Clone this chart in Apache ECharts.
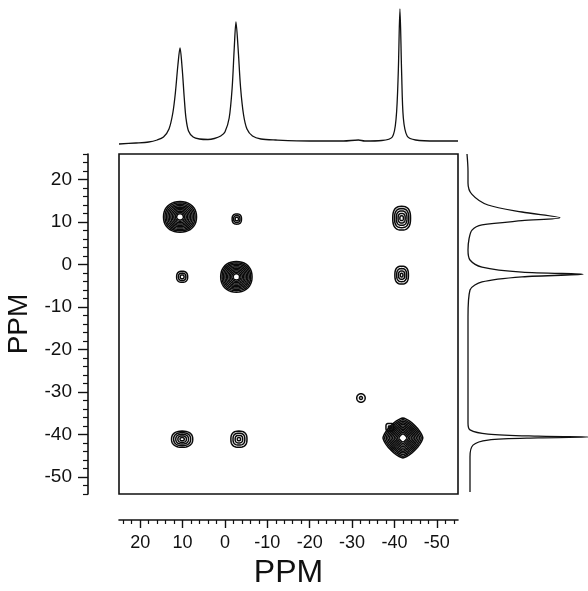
<!DOCTYPE html>
<html>
<head>
<meta charset="utf-8">
<title>2D NMR</title>
<script src="https://cdn.jsdelivr.net/npm/echarts@6/dist/echarts.min.js"></script>
<style>
    html, body { margin: 0; padding: 0; background: #fff; }
    #divChart { width: 588px; height: 591px; }
</style>
</head>
<body>
<div id="divChart"></div>
<script>
// tick labels, ppm
var majorTicks = [20, 10, 0, -10, -20, -30, -40, -50];
var minorTicks = [];
for (var v = -54; v <= 26; v += 2) {
    if (v % 10 !== 0) minorTicks.push(v);
}

// contour peaks: centre (ppm), half width (ppm), number of contour levels
var peakX = [10.6, -2.7, -42.0, -2.8, -41.7, 10.1, -41.7, 10.1, -3.3, -32.1, -38.9];
var peakY = [11.2, -2.9, -40.8, 10.7, 10.9, -2.9, -2.5, -41.1, -41.1, -31.4, -38.3];
var peakWX = [3.9, 3.7, 4.7, 1.1, 2.1, 1.3, 1.6, 2.5, 1.9, 1.0, 0.9];
var peakWY = [3.6, 3.6, 4.7, 1.2, 2.8, 1.3, 2.1, 1.9, 1.9, 1.0, 0.9];
var peakLevels = [10, 10, 11, 3, 5, 3, 4, 5, 4, 2, 2];

// projection on top: [ppm, intensity]
var topSpectrum = [
    [25, -1], [21, 0], [18, 1], [16, 3], [14.5, 6], [13.2, 14], [12.3, 30], [11.7, 50],
    [11.1, 78], [10.6, 95], [10.1, 75], [9.6, 45], [9.2, 25], [8.6, 12], [7.5, 6], [6, 4],
    [4, 3.5], [2.5, 4.5], [1, 7], [0, 11], [-1, 25], [-1.7, 55], [-2.2, 95], [-2.6, 121],
    [-3.1, 95], [-3.7, 55], [-4.4, 28], [-5.2, 14], [-6.5, 7], [-8.5, 4], [-12, 3], [-20, 2],
    [-28, 2], [-31.5, 3], [-33, 2], [-37, 2.5], [-39.5, 6], [-40.4, 25], [-40.9, 70], [-41.3, 134],
    [-41.7, 70], [-42.1, 25], [-43, 7], [-45, 3], [-50, 2], [-55, 2]
];

// projection on the right: [intensity, ppm]
var rightSpectrum = [
    [1, 26], [2, 22], [2, 19.2], [6, 16.5], [22, 14.0], [56, 12.35], [94, 11.0], [56, 10.3],
    [16, 9.3], [6, 8.1], [3, 6], [2, 3.4], [4, 1.06], [16, -0.6], [56, -1.8], [117, -2.3],
    [56, -2.9], [16, -4.1], [4, -6.0], [2, -12.4], [2, -37.3], [4, -38.9], [22, -39.9], [72, -40.4],
    [122, -40.6], [72, -40.8], [22, -41.3], [7, -42.5], [4, -45.3], [4, -53.5]
];

// contour shape (superellipse exponent) per peak, style only
var peakRound = [2.2, 2.2, 1.4, 2.5, 2.6, 2.5, 2.6, 2.4, 2.6, 2.0, 4.0];

var contourData = [];
for (var i = 0; i < peakX.length; i++) {
    contourData.push([peakX[i], peakY[i], peakWX[i], peakWY[i], peakLevels[i], peakRound[i]]);
}

function renderContour(params, api) {
    var c = api.coord([api.value(0), api.value(1)]);
    var s = api.size([api.value(2), api.value(3)]);
    var n = api.value(4);
    var p = api.value(5);
    var k0 = n > 3 ? 0.2 : 0.35;
    var children = [];
    for (var j = 0; j < n; j++) {
        var k = n === 1 ? 1 : k0 + (1 - k0) * j / (n - 1);
        var pts = [];
        for (var t = 0; t < 40; t++) {
            var a = t / 40 * Math.PI * 2;
            var ca = Math.cos(a), sa = Math.sin(a);
            var px = (ca < 0 ? -1 : 1) * Math.pow(Math.abs(ca), 2 / p);
            var py = (sa < 0 ? -1 : 1) * Math.pow(Math.abs(sa), 2 / p);
            pts.push([c[0] + px * s[0] * k, c[1] + py * s[1] * k]);
        }
        children.push({
            type: 'polygon',
            shape: { points: pts },
            style: { fill: 'none', stroke: '#0a0a0a', lineWidth: 1.5 }
        });
    }
    return { type: 'group', children: children };
}

var font = 'Liberation Sans, Arial, sans-serif';
var ink = '#111';

var myChart = echarts.init(document.getElementById('divChart'), null, { renderer: 'canvas' });
var option = {
    animation: false,
    backgroundColor: '#fff',
    grid: [
        { left: 119, top: 154, width: 339, height: 340, show: true, borderColor: ink, borderWidth: 1.6, outerBoundsMode: 'none' },
        { left: 119, top: 8, width: 339, height: 137, outerBoundsMode: 'none' },
        { left: 466, top: 154, width: 122, height: 340, outerBoundsMode: 'none' }
    ],
    xAxis: [{
        gridIndex: 0, type: 'value', min: -55, max: 25, inverse: true, position: 'bottom', offset: 26,
        axisLine: { show: true, onZero: false, lineStyle: { color: ink, width: 1.6 } },
        axisTick: { show: true, customValues: majorTicks, length: 8, lineStyle: { color: ink, width: 1.4 } },
        axisLabel: { customValues: majorTicks, margin: 14, fontSize: 18, color: ink, fontFamily: font },
        splitLine: { show: false },
        name: 'PPM', nameLocation: 'middle', nameGap: 36,
        nameTextStyle: { fontSize: 32, color: ink, fontFamily: font }
    }, {
        gridIndex: 0, type: 'value', min: -55, max: 25, inverse: true, position: 'bottom', offset: 26,
        axisLine: { show: false, onZero: false },
        axisTick: { show: true, customValues: minorTicks, length: 4, lineStyle: { color: ink, width: 1.2 } },
        axisLabel: { show: false },
        splitLine: { show: false }
    }, {
        gridIndex: 1, type: 'value', min: -55, max: 25, inverse: true, show: false
    }, {
        gridIndex: 2, type: 'value', min: 0, max: 122, show: false
    }],
    yAxis: [{
        gridIndex: 0, type: 'value', min: -54, max: 26, position: 'left', offset: 31,
        axisLine: { show: true, onZero: false, lineStyle: { color: ink, width: 1.6 } },
        axisTick: { show: true, customValues: majorTicks, length: 10, lineStyle: { color: ink, width: 1.4 } },
        axisLabel: { customValues: majorTicks, margin: 16, fontSize: 19, color: ink, fontFamily: font },
        splitLine: { show: false },
        name: 'PPM', nameLocation: 'middle', nameGap: 40,
        nameTextStyle: { fontSize: 28, color: ink, fontFamily: font }
    }, {
        gridIndex: 0, type: 'value', min: -54, max: 26, position: 'left', offset: 31,
        axisLine: { show: false, onZero: false },
        axisTick: { show: true, customValues: minorTicks, length: 5, lineStyle: { color: ink, width: 1.2 } },
        axisLabel: { show: false },
        splitLine: { show: false }
    }, {
        gridIndex: 1, type: 'value', min: -2, max: 135, show: false
    }, {
        gridIndex: 2, type: 'value', min: -54, max: 26, show: false
    }],
    series: [{
        name: 'contours',
        type: 'custom',
        xAxisIndex: 0,
        yAxisIndex: 0,
        renderItem: renderContour,
        encode: { x: 0, y: 1 },
        data: contourData,
        clip: true
    }, {
        name: 'top',
        type: 'line',
        xAxisIndex: 2,
        yAxisIndex: 2,
        showSymbol: false,
        smooth: 0.3,
        lineStyle: { color: ink, width: 1.3 },
        data: topSpectrum
    }, {
        name: 'right',
        type: 'line',
        xAxisIndex: 3,
        yAxisIndex: 3,
        showSymbol: false,
        smooth: 0.3,
        lineStyle: { color: ink, width: 1.3 },
        data: rightSpectrum
    }]
};
myChart.setOption(option);
</script>
</body>
</html>
